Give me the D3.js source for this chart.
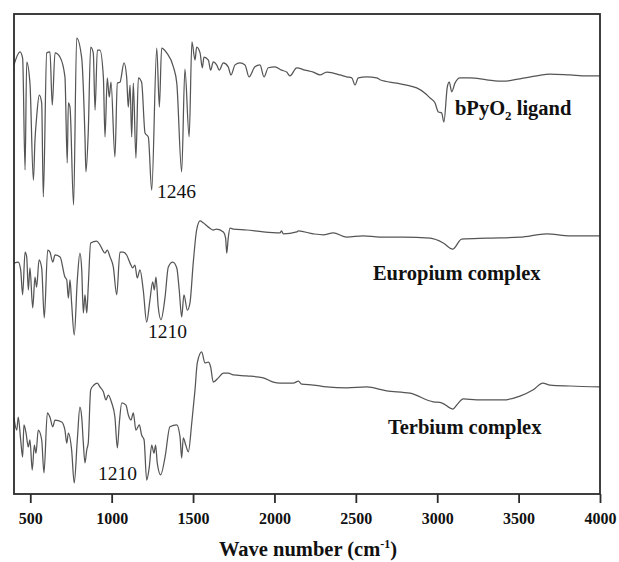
<!DOCTYPE html>
<html>
<head>
<meta charset="utf-8">
<script src="https://cdn.jsdelivr.net/npm/d3@7"></script>
<style>
    body { margin: 0; background: #fff; }
    svg { display: block; font-family: "Liberation Serif", "Times New Roman", serif; }
    .trace { fill: none; stroke: #555; stroke-width: 1.25; stroke-linejoin: round; }
    .frame { fill: none; stroke: #2b2b2b; stroke-width: 1.8; }
    .axis-x line { stroke: #2b2b2b; stroke-width: 1.8; }
    .axis-x text { font-family: "Liberation Serif", "Times New Roman", serif; font-size: 16px; font-weight: bold; fill: #111; }
    .series-label { font-size: 20.5px; font-weight: bold; fill: #111; }
    .peak-label { font-size: 19.5px; fill: #111; }
    .x-axis-title { font-size: 20.5px; font-weight: bold; fill: #111; }
</style>
</head>
<body>
<div id="chart"></div>
<script>
'use strict';

// x ticks (wavenumber, cm-1)
const tickValues = [500, 1000, 1500, 2000, 2500, 3000, 3500, 4000];

// bPyO2 ligand - wavenumber / relative transmittance (offset, arbitrary units)
const ligandWn = [400, 437, 453, 468, 478, 498, 519, 529, 539, 555, 570, 580, 601, 621, 635, 652, 683, 713, 727, 734,
    744, 766, 785, 816, 836, 842, 856, 871, 887, 898, 912, 928, 949, 959, 973, 985, 996, 1020, 1035, 1051,
    1076, 1092, 1102, 1113, 1123, 1133, 1149, 1164, 1184, 1205, 1225, 1246, 1277, 1293, 1307, 1338, 1379, 1400, 1430, 1450,
    1476, 1493, 1512, 1522, 1543, 1557, 1567, 1594, 1608, 1624, 1645, 1661, 1686, 1716, 1733, 1758, 1788, 1819, 1844, 1880,
    1911, 1936, 1962, 2003, 2044, 2075, 2095, 2137, 2188, 2239, 2280, 2321, 2361, 2403, 2444, 2475, 2495, 2515, 2567, 2628,
    2648, 2751, 2812, 2874, 2925, 2956, 2986, 3007, 3027, 3041, 3062, 3074, 3089, 3109, 3140, 3201, 3304, 3406, 3508, 3611,
    3693, 3816, 3918, 4000];
const ligandT = [89.4, 92.1, 90.8, 67.5, 90.0, 85.6, 65.4, 73.8, 78.5, 83.1, 81.5, 61.9, 91.9, 92.1, 81.0, 91.9, 91.0, 86.9, 69.0, 81.5,
    80.6, 60.2, 95.0, 90.8, 74.4, 67.1, 75.2, 93.1, 91.9, 80.0, 92.5, 92.5, 86.9, 74.4, 86.7, 82.7, 85.8, 70.2, 85.6, 85.8,
    89.8, 86.9, 80.6, 85.2, 74.4, 85.6, 70.0, 86.7, 85.8, 75.2, 74.4, 63.3, 92.9, 80.6, 92.9, 91.9, 89.0, 85.6, 67.1, 88.5,
    74.4, 94.2, 90.4, 93.1, 91.9, 88.8, 91.0, 90.4, 88.3, 90.0, 89.4, 88.3, 89.8, 89.0, 87.3, 89.4, 89.8, 89.4, 86.9, 89.0,
    89.4, 86.9, 88.8, 89.0, 88.3, 87.9, 87.1, 88.8, 88.3, 87.9, 87.3, 87.9, 87.7, 87.3, 86.9, 86.7, 85.2, 86.7, 86.9, 86.7,
    86.3, 85.6, 85.2, 84.6, 83.5, 82.5, 81.5, 79.6, 79.4, 77.5, 84.8, 85.8, 83.8, 85.6, 86.7, 86.7, 86.3, 86.0, 86.5, 87.1,
    87.5, 87.3, 87.1, 87.1];

// Europium complex
const europiumWn = [400, 426, 441, 453, 468, 478, 488, 498, 515, 529, 539, 554, 570, 586, 607, 621, 638, 652, 683, 713,
    724, 734, 744, 754, 770, 789, 805, 816, 826, 836, 847, 856, 871, 908, 928, 959, 973, 990, 1010, 1031,
    1051, 1071, 1092, 1113, 1129, 1143, 1157, 1174, 1194, 1215, 1235, 1252, 1262, 1272, 1286, 1303, 1328, 1348, 1375, 1400,
    1415, 1430, 1444, 1465, 1481, 1501, 1522, 1543, 1563, 1594, 1624, 1645, 1686, 1700, 1707, 1716, 1727, 1747, 1829, 1931,
    2034, 2044, 2054, 2137, 2147, 2239, 2300, 2361, 2444, 2546, 2648, 2791, 2956, 3037, 3095, 3150, 3304, 3508, 3672, 3816,
    4000];
const europiumT = [48.1, 48.3, 46.7, 41.5, 50.4, 49.4, 42.5, 47.1, 38.8, 45.2, 43.1, 48.8, 47.1, 36.7, 50.8, 50.4, 48.3, 49.8, 49.4, 45.2,
    44.6, 40.8, 44.6, 39.8, 33.1, 44.6, 50.2, 46.7, 37.7, 41.5, 37.7, 43.1, 52.3, 52.7, 51.9, 50.2, 50.8, 49.4, 47.3, 41.5,
    50.4, 50.4, 49.8, 48.1, 47.1, 47.7, 45.0, 46.7, 42.5, 35.8, 40.4, 44.2, 42.5, 45.2, 39.0, 36.3, 41.0, 47.3, 48.3, 47.1,
    42.5, 36.9, 41.5, 38.3, 39.8, 48.1, 55.0, 56.9, 56.5, 55.6, 55.0, 55.2, 54.6, 53.3, 50.2, 53.3, 55.4, 55.2, 55.0, 54.6,
    54.4, 54.8, 54.2, 54.6, 54.8, 54.2, 54.0, 54.4, 53.5, 53.8, 53.5, 53.5, 53.3, 52.3, 51.0, 53.1, 53.3, 53.5, 54.2, 53.8,
    53.8];

// Terbium complex
const terbiumWn = [400, 417, 426, 441, 453, 461, 474, 488, 498, 512, 525, 535, 549, 570, 584, 605, 621, 638, 652, 693,
    713, 724, 734, 754, 770, 789, 805, 816, 826, 836, 847, 856, 871, 891, 912, 928, 949, 965, 979, 1000,
    1020, 1035, 1047, 1062, 1088, 1102, 1119, 1133, 1149, 1170, 1184, 1199, 1215, 1231, 1246, 1260, 1270, 1280, 1301, 1328,
    1358, 1400, 1420, 1430, 1440, 1455, 1471, 1492, 1512, 1526, 1553, 1573, 1594, 1608, 1624, 1655, 1686, 1716, 1747, 1829,
    1931, 1993, 2034, 2116, 2147, 2167, 2239, 2321, 2444, 2567, 2689, 2833, 2976, 3027, 3095, 3119, 3160, 3242, 3406, 3508,
    3590, 3648, 3693, 3816, 4000];
const terbiumT = [15.8, 13.3, 16.0, 11.3, 7.7, 14.4, 12.7, 9.8, 11.3, 5.0, 10.2, 8.5, 13.3, 11.3, 4.4, 16.9, 16.0, 14.0, 15.4, 15.0,
    13.3, 10.6, 12.7, 9.2, 2.3, 11.3, 18.1, 16.0, 10.6, 6.5, 9.2, 10.6, 21.7, 22.7, 23.1, 22.3, 21.3, 19.6, 20.6, 19.0,
    16.0, 9.6, 14.8, 19.0, 18.5, 16.5, 15.4, 16.9, 13.3, 14.4, 12.3, 11.3, 2.9, 5.6, 10.2, 8.5, 10.2, 6.5, 4.0, 7.7,
    14.0, 14.4, 11.9, 7.5, 11.7, 10.2, 8.8, 14.8, 21.7, 27.3, 29.6, 27.3, 27.5, 26.5, 23.3, 24.2, 25.2, 25.2, 24.8, 24.6,
    24.2, 23.3, 23.1, 23.1, 23.5, 22.9, 22.7, 22.3, 22.1, 22.3, 21.5, 21.0, 19.2, 19.0, 17.7, 18.5, 19.8, 19.6, 19.6, 20.4,
    21.7, 23.1, 22.7, 22.5, 22.3];

// series labels: [text, subscript, rest, wavenumber, value] - anchored in data units
const seriesLabels = [
    ['bPyO', '2', ' ligand', 3109, 79.0],
    ['Europium complex', '', '', 2605, 44.6],
    ['Terbium complex', '', '', 2697, 12.5]
];

// peak annotations: [text, wavenumber, value]
const peakLabels = [
    ['1246', 1278, 61.7],
    ['1210', 1223, 32.5],
    ['1210', 916, 2.9]
];

const svgWidth = 619, svgHeight = 562;
const margin = [14, 68, 14, 19];   // top, bottom, left, right
const chartWidth = svgWidth - margin[2] - margin[3];
const chartHeight = svgHeight - margin[0] - margin[1];

const svg = d3.select('#chart').append('svg')
    .attr('width', svgWidth)
    .attr('height', svgHeight);

const chart = svg.append('g')
    .attr('transform', `translate(${margin[2]},${margin[0]})`);

const scaleX = d3.scaleLinear([400, 4000], [0, chartWidth]);
const scaleY = d3.scaleLinear([0, 100], [chartHeight, 0]);

// monotone curve keeps the peak extremes but rounds the corners like the scanned trace
const line = d3.line()
    .x(d => scaleX(d[0]))
    .y(d => scaleY(d[1]))
    .curve(d3.curveMonotoneX);

// traces
[[ligandWn, ligandT], [europiumWn, europiumT], [terbiumWn, terbiumT]].forEach(([wn, t]) => {
    chart.append('path')
        .datum(d3.zip(wn, t))
        .attr('class', 'trace')
        .attr('d', line);
});

// bottom axis, ticks pointing outward
const axisX = chart.append('g')
    .attr('class', 'axis-x')
    .attr('transform', `translate(0,${chartHeight})`)
    .call(d3.axisBottom(scaleX).tickValues(tickValues).tickSize(9).tickSizeOuter(0).tickPadding(10)
        .tickFormat(d3.format('d')));
axisX.attr('font-family', null).attr('font-size', null);
axisX.select('.domain').remove();

// plot frame
chart.append('rect')
    .attr('class', 'frame')
    .attr('width', chartWidth)
    .attr('height', chartHeight);

// series labels
seriesLabels.forEach(([txt, sub, rest, wn, v]) => {
    const t = chart.append('text')
        .attr('class', 'series-label')
        .attr('x', scaleX(wn))
        .attr('y', scaleY(v));
    t.append('tspan').text(txt);
    if (sub) {
        t.append('tspan').attr('dy', 5).attr('font-size', 13).text(sub);
        t.append('tspan').attr('dy', -5).text(rest);
    }
});

// peak annotations
peakLabels.forEach(([txt, wn, v]) => {
    chart.append('text')
        .attr('class', 'peak-label')
        .attr('x', scaleX(wn))
        .attr('y', scaleY(v))
        .text(txt);
});

// x-axis title with superscript
const title = svg.append('text')
    .attr('class', 'x-axis-title')
    .attr('text-anchor', 'middle')
    .attr('x', 308)
    .attr('y', 556);
title.append('tspan').text('Wave number (cm');
title.append('tspan').attr('dy', -8).attr('font-size', 12).text('-1');
title.append('tspan').attr('dy', 8).text(')');
</script>
</body>
</html>
